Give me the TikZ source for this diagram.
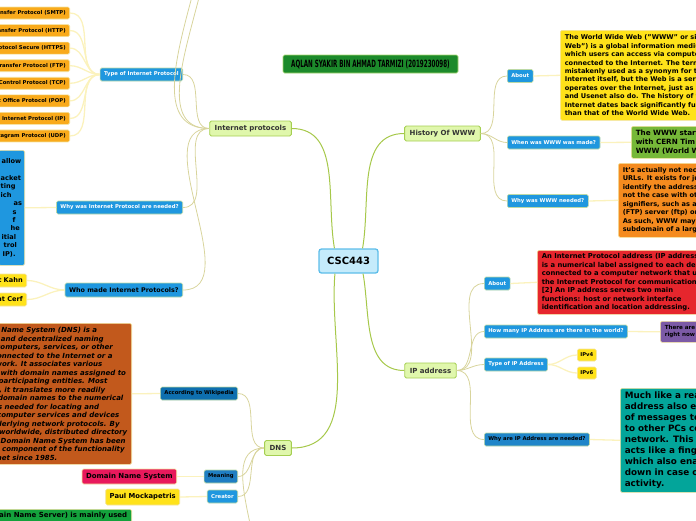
\documentclass[tikz,border=0pt]{standalone}
\usepackage{fontspec}
\setmainfont{DejaVu Sans}
\usetikzlibrary{positioning}

\definecolor{rootfill}{HTML}{C5EBFB}
\definecolor{rootline}{HTML}{5DBDE9}
\definecolor{authorfill}{HTML}{1C8A2B}
\definecolor{authorline}{HTML}{A8D870}
\definecolor{topicfill}{HTML}{E0F7AC}
\definecolor{topicline}{HTML}{A5CF52}
\definecolor{topictext}{HTML}{333333}
\definecolor{subblue}{HTML}{1F97DF}
\definecolor{subline}{HTML}{BCD9A6}
\definecolor{wikiblue}{HTML}{0E6FAF}
\definecolor{meanblue}{HTML}{1F7EC2}
\definecolor{needblue}{HTML}{1F85C9}
\definecolor{leafline}{HTML}{F3E3A0}
\definecolor{protofill}{HTML}{F9AA1B}
\definecolor{yellowfill}{HTML}{FFE21A}
\definecolor{dnspink}{HTML}{E8195C}
\definecolor{dnsbrown}{HTML}{C2591C}
\definecolor{dnsgreen}{HTML}{14A23C}
\definecolor{wwwgreen}{HTML}{76B838}
\definecolor{wwworange}{HTML}{F58B1F}
\definecolor{ipred}{HTML}{E6262D}
\definecolor{ippurple}{HTML}{7C5AA6}
\definecolor{ipteal}{HTML}{03A59A}
\definecolor{trunkline}{HTML}{A6C84A}
\definecolor{twigline}{HTML}{D8D49C}
\definecolor{stemline}{HTML}{FBF2BD}

\newcommand\mapfont[2]{\fontsize{#1}{#2}\selectfont\bfseries}

\begin{document}
\begin{tikzpicture}[x=1pt,y=1pt,
  box/.style={rounded corners=1.5pt,line width=0.6pt,inner xsep=3pt,inner ysep=1.5pt},
  root/.style={box,rounded corners=2.5pt,fill=rootfill,draw=rootline,line width=1.3pt,minimum width=59pt,minimum height=24pt,font=\mapfont{10}{12}},
  author/.style={box,fill=authorfill,draw=authorline,minimum width=175pt,minimum height=18pt,font=\mapfont{10}{11}},
  topic/.style={box,fill=topicfill,draw=topicline,line width=0.9pt,text=topictext,minimum height=15pt,inner xsep=5pt,font=\mapfont{7}{8}},
  sub/.style={box,fill=subblue,draw=subline,text=white,minimum height=13pt,inner xsep=4pt,font=\mapfont{5.3}{6}},
  leaf/.style={box,draw=leafline,text=black,font=\mapfont{5.3}{6},minimum height=12pt,inner xsep=4pt},
  note/.style={box,draw=leafline,text=black,align=left,inner xsep=4.5pt,inner ysep=3pt},
  trunk/.style={draw=trunkline,line width=1pt},
  twig/.style={draw=twigline,line width=0.8pt},
  stem/.style={draw=stemline,line width=1.3pt}
]
\useasboundingbox (0,-520) rectangle (696,0);
\clip (0,-520) rectangle (696,0);

% centre and main branches
\node[root] (csc) at (348.5,-261) {CSC443};
\node[author] (author) at (370.5,-64) {\scalebox{0.56}[1]{AQLAN SYAKIR BIN AHMAD TARMIZI (2019230098)}};
\node[topic] (inet) at (250.5,-128.5) {Internet protocols};
\node[topic] (www) at (442.5,-133.5) {History Of WWW};
\node[topic] (ipad) at (430.5,-370.5) {IP address};
\node[topic] (dns) at (278,-448) {DNS};

\draw[trunk] (csc.138) to[out=100,in=0] (inet.east);
\draw[trunk] (csc.42) to[out=80,in=180] (www.west);
\draw[trunk] (csc.319) to[out=-80,in=180] (ipad.west);
\draw[trunk] (csc.223) to[out=-95,in=0] (dns.east);

% internet protocols
\node[sub,anchor=east] (iptype) at (183,-74.5) {Type of Internet Protocol};
\node[sub,anchor=east] (ipwhy) at (183,-207.5) {Why was Internet Protocol are needed?};
\node[sub,anchor=east,text=black,minimum height=14pt,font=\mapfont{6.4}{8}] (ipwho) at (183,-290) {Who made Internet Protocols?};
\coordinate (inetup1) at (180,100);
\coordinate (inetup2) at (176,140);
\foreach \dst in {iptype,ipwhy,ipwho,inetup1,inetup2}
  \draw[twig] (inet.west) to[out=180,in=0] (\dst);

\foreach \txt [count=\i] in {Simple Mail Transfer Protocol (SMTP),Hypertext Transfer Protocol (HTTP),
    Hypertext Transfer Protocol Secure (HTTPS),File Transfer Protocol (FTP),
    Transmission Control Protocol (TCP),Post Office Protocol (POP),
    Internet Protocol (IP),User Datagram Protocol (UDP)} {
  \node[leaf,fill=protofill,anchor=east] (proto\i) at (70,{-13-17.57*(\i-1)}) {\txt};
  \draw[stem] (iptype.west) to[out=180,in=0] (proto\i.east);
}

\node[note,fill=subblue,anchor=north east,text width=22pt,inner xsep=2pt,minimum height=115pt,font=\mapfont{6.6}{8.4}] (ipwhynote) at (25,-150)
  {\hspace*{1pt}allow\\ ~\\ acket\\ ting\\ ich\\ \hspace*{13pt}as\\ \hspace*{12pt}s\\ \hspace*{12pt}f\\ \hspace*{10pt}he\\ \hspace*{1pt}itial\\ \hspace*{3pt}trol\\ \hspace*{2pt}IP).};
\draw[stem] (ipwhy.west) -- (ipwhynote.east);

\node[leaf,fill=yellowfill,anchor=east,minimum height=13pt,font=\mapfont{6.6}{8}] (kahn) at (27,-280.5) {Robert Kahn};
\node[leaf,fill=yellowfill,anchor=east,minimum height=13pt,font=\mapfont{6.6}{8}] (cerf) at (27,-299.5) {Vint Cerf};
\draw[stem] (ipwho.west) to[out=180,in=0] (kahn.east);
\draw[stem] (ipwho.west) to[out=180,in=0] (cerf.east);

% dns
\node[sub,anchor=east,fill=wikiblue,text=black] (wiki) at (238,-393.5) {According to Wikipedia};
\node[sub,anchor=east,fill=meanblue,text=black] (meaning) at (238,-476.5) {Meaning};
\node[sub,anchor=east] (creator) at (238,-496.5) {Creator};
\coordinate (dnsmore) at (236,-600);
\foreach \dst in {wiki,meaning,creator,dnsmore}
  \draw[twig] (dns.west) to[out=180,in=0] (\dst);

\node[note,fill=dnsbrown,anchor=north east,minimum height=141pt,font=\mapfont{7}{8.5}\itshape] (wikinote) at (132,-323)
  {The Domain Name System (DNS) is a\\
   hierarchical and decentralized naming\\
   system for computers, services, or other\\
   resources connected to the Internet or a\\
   private network. It associates various\\
   information with domain names assigned to\\
   each of the participating entities. Most\\
   prominently, it translates more readily\\
   memorized domain names to the numerical\\
   IP addresses needed for locating and\\
   identifying computer services and devices\\
   with the underlying network protocols. By\\
   providing a worldwide, distributed directory\\
   service, the Domain Name System has been\\
   an essential component of the functionality\\
   of the Internet since 1985.};
\node[leaf,fill=dnspink,anchor=east,minimum height=15pt,font=\mapfont{7}{8}] (dnsname) at (177,-476.5) {Domain Name System};
\node[leaf,fill=yellowfill,anchor=east,minimum height=16pt,font=\mapfont{6.8}{8}] (paul) at (180,-497) {Paul Mockapetris};
\node[note,fill=dnsgreen,anchor=north east,text depth=30pt,font=\mapfont{7}{8.5}] (dnsserver) at (132,-509) {DNS (Domain Name Server) is mainly used};
\draw[stem] (wiki.west) -- (wikinote.east);
\draw[stem] (meaning.west) -- (dnsname.east);
\draw[stem] (creator.west) -- (paul.east);

% history of www
\node[sub,anchor=west] (wwwabout) at (507,-76) {About};
\node[sub,anchor=west] (wwwwhen) at (507,-142.5) {When was WWW was made?};
\node[sub,anchor=west] (wwwwhy) at (507,-201) {Why was WWW needed?};
\foreach \dst in {wwwabout,wwwwhen,wwwwhy}
  \draw[twig] (www.east) to[out=0,in=180] (\dst.west);

\node[note,fill=yellowfill,anchor=north west,minimum height=90pt,font=\mapfont{6.6}{8.4}] (wwwaboutnote) at (560,-30)
  {The World Wide Web ("WWW" or simply "the\\
   Web") is a global information medium\\
   which users can access via computers\\
   connected to the Internet. The term is often\\
   mistakenly used as a synonym for the\\
   Internet itself, but the Web is a service that\\
   operates over the Internet, just as email\\
   and Usenet also do. The history of the\\
   Internet dates back significantly further\\
   than that of the World Wide Web.};
\node[note,fill=wwwgreen,anchor=north west,minimum height=32pt,font=\mapfont{7.2}{9.3}] (wwwwhennote) at (631,-126)
  {The WWW started in 1989\\ with CERN Tim Berners-Lee\\ WWW (World Wide Web)};
\node[note,fill=wwworange,anchor=north west,minimum height=74pt,font=\mapfont{6.6}{8.5}] (wwwwhynote) at (618,-163)
  {It's actually not necessary to use WWW in\\
   URLs. It exists for just a way to\\
   identify the address as a website, which is\\
   not the case with other websites\\
   signifiers, such as a File Transfer Protocol\\
   (FTP) server (ftp) or mail server (mail).\\
   As such, WWW may be used as the\\
   subdomain of a larger domain.};
\draw[stem] (wwwabout.east) -- (wwwaboutnote.west);
\draw[stem] (wwwwhen.east) -- (wwwwhennote.west);
\draw[stem] (wwwwhy.east) -- (wwwwhynote.west);

% ip address
\node[sub,anchor=west] (ipabout) at (484,-283.5) {About};
\node[sub,anchor=west] (ipcount) at (484,-331.5) {How many IP Address are there in the world?};
\node[sub,anchor=west] (iptypes) at (484,-364.5) {Type of IP Address};
\node[sub,anchor=west,fill=needblue,text=black] (ipneed) at (484,-439.5) {Why are IP Address are needed?};
\foreach \dst in {ipabout,ipcount,iptypes,ipneed}
  \draw[twig] (ipad.east) to[out=0,in=180] (\dst.west);

\node[note,fill=ipred,anchor=north west,minimum height=64pt,font=\mapfont{6.8}{8.5}] (ipaboutnote) at (537,-250)
  {An Internet Protocol address (IP address)\\
   is a numerical label assigned to each device\\
   connected to a computer network that uses\\
   the Internet Protocol for communication.[1]\\
   {}[2] An IP address serves two main\\
   functions: host or network interface\\
   identification and location addressing.};
\node[note,fill=ippurple,anchor=north west,minimum height=21pt,font=\mapfont{5.6}{7}] (ipcountnote) at (660,-321)
  {There are 4.3 billion IP addresses\\ right now};
\node[leaf,fill=yellowfill,anchor=west,inner xsep=3pt] (ipv4) at (577,-355) {IPv4};
\node[leaf,fill=yellowfill,anchor=west,inner xsep=3pt] (ipv6) at (577,-373) {IPv6};
\node[note,fill=ipteal,anchor=north west,minimum height=104pt,font=\mapfont{8.8}{11}] (ipneednote) at (620,-388)
  {Much like a real-world address, an IP\\
   address also enables the delivery\\
   of messages to and from your PC\\
   to other PCs connected to the\\
   network. This address also\\
   acts like a fingerprint of sorts,\\
   which also enables to track you\\
   down in case of any suspicious\\
   activity.};
\draw[stem] (ipabout.east) -- (ipaboutnote.west);
\draw[stem] (ipcount.east) -- (ipcountnote.west);
\draw[stem] (iptypes.east) to[out=0,in=180] (ipv4.west);
\draw[stem] (iptypes.east) to[out=0,in=180] (ipv6.west);
\draw[stem] (ipneed.east) -- (ipneednote.west);
\end{tikzpicture}
\end{document}
